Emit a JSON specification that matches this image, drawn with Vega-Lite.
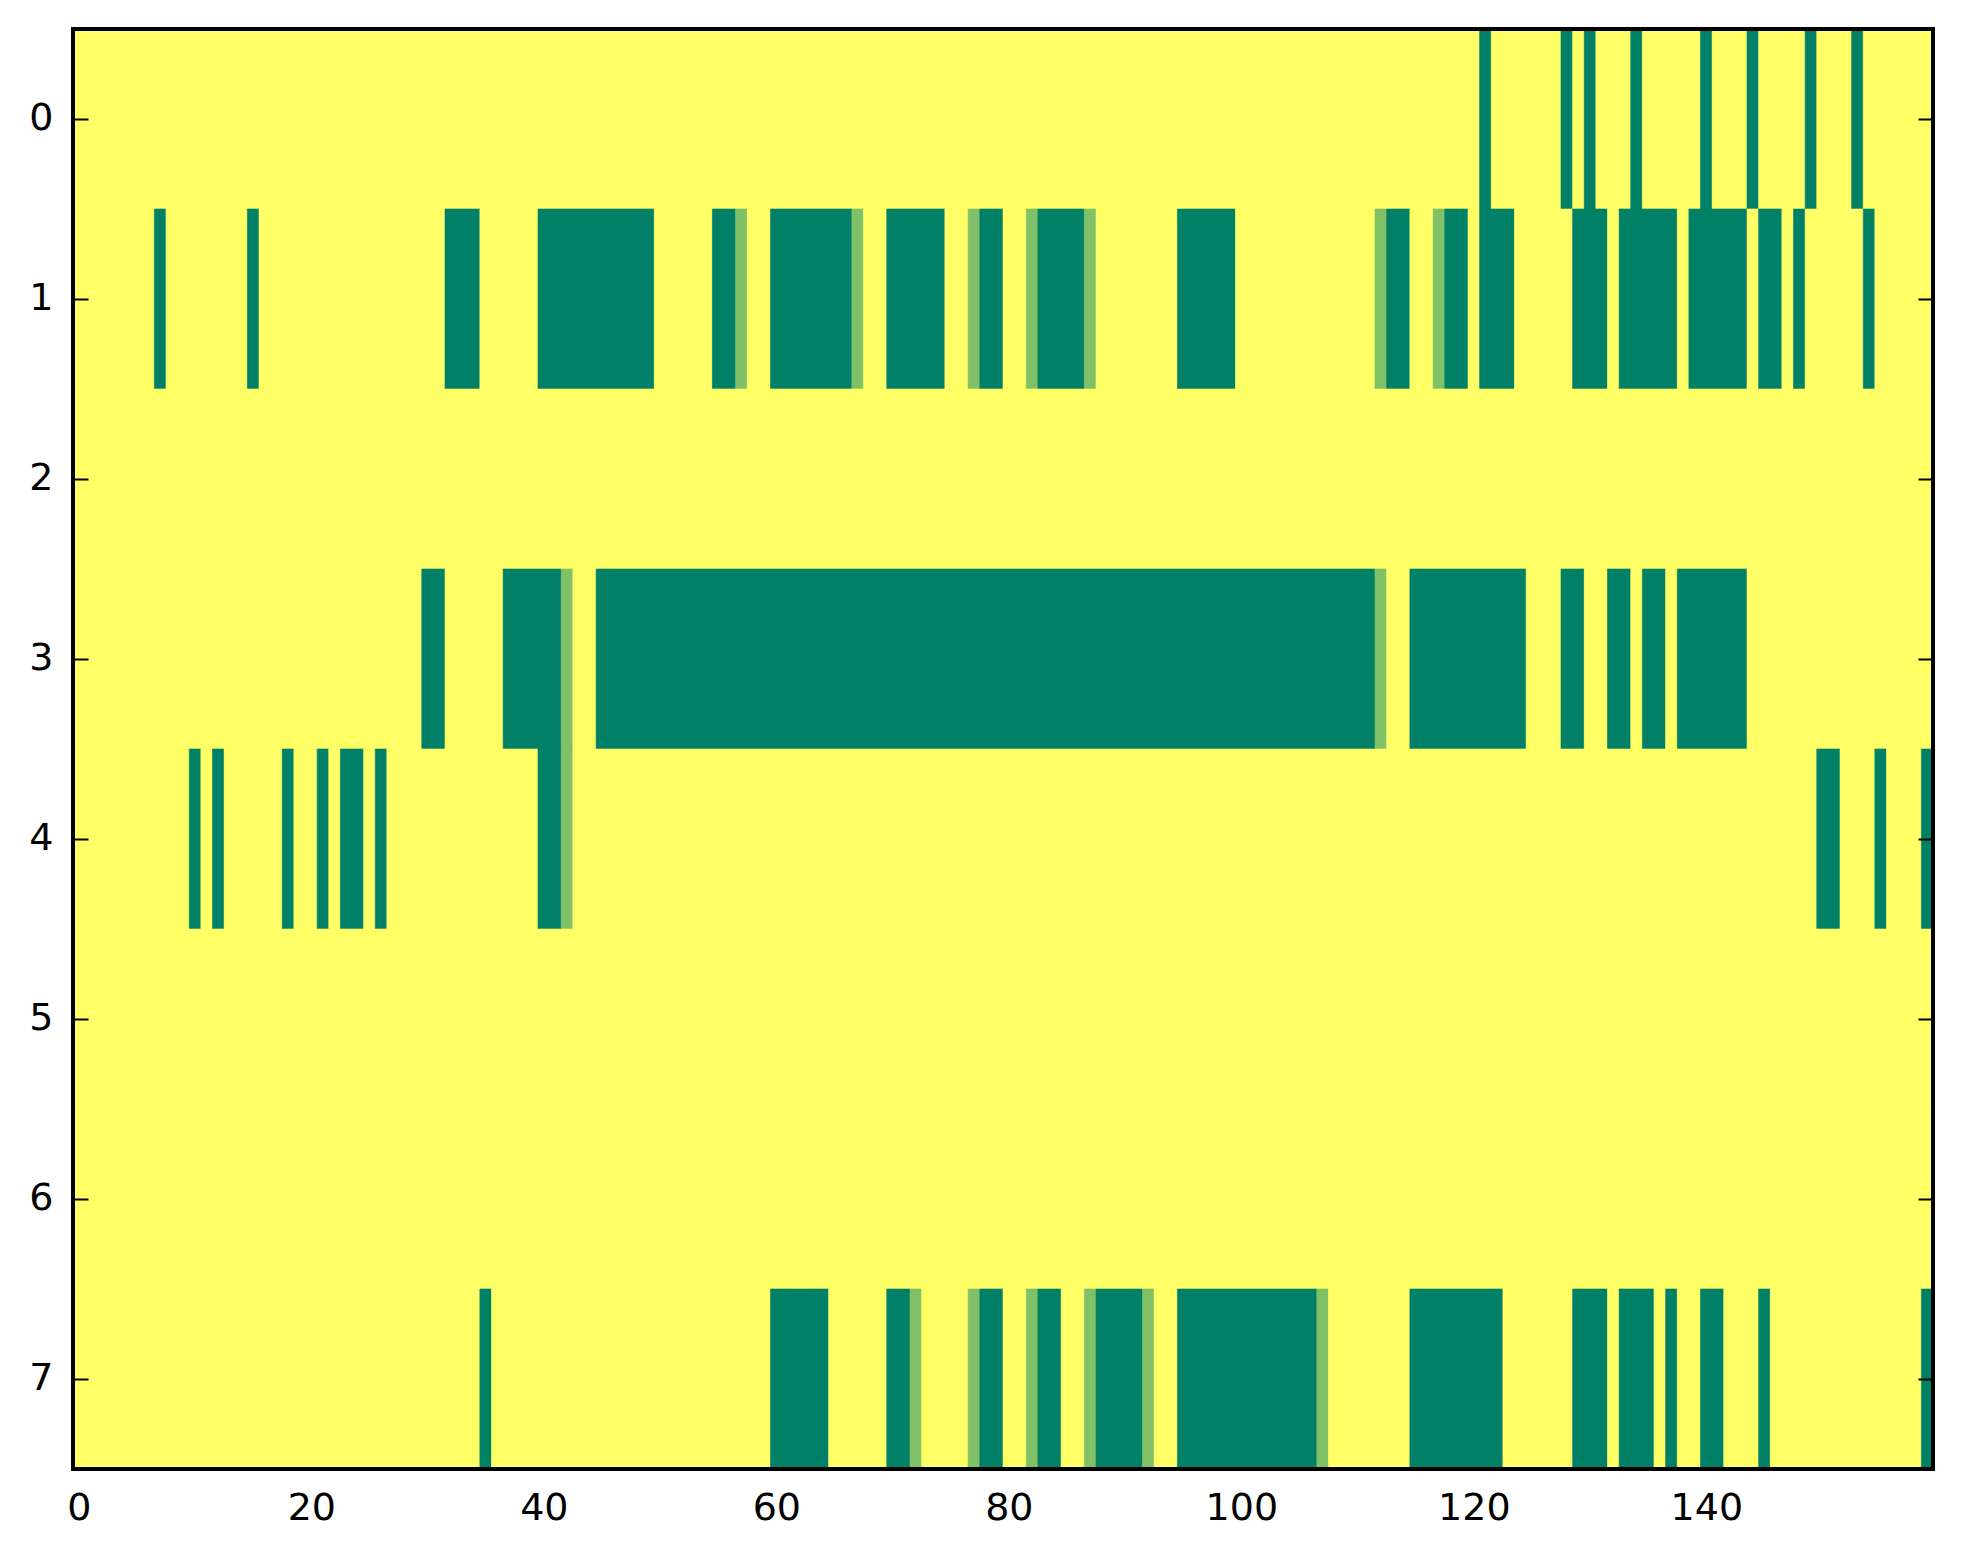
{
  "$schema": "https://vega.github.io/schema/vega-lite/v6.json",
  "width": 1860,
  "height": 1440,
  "autosize": {"type": "none"},
  "padding": {"left": 73, "top": 29, "right": 30, "bottom": 95},
  "background": "white",
  "config": {
    "view": {"stroke": null},
    "font": "DejaVu Sans",
    "axis": {
      "grid": false,
      "domain": false,
      "tickColor": "black",
      "tickWidth": 2,
      "tickSize": -15,
      "labelColor": "black",
      "labelFont": "DejaVu Sans",
      "labelFontSize": 38,
      "title": null
    }
  },
  "data": {
    "values": [
      {"r": 0, "a": -0.5, "b": 120.5, "v": 1},
      {"r": 0, "a": 120.5, "b": 121.5, "v": 0},
      {"r": 0, "a": 121.5, "b": 127.5, "v": 1},
      {"r": 0, "a": 127.5, "b": 128.5, "v": 0},
      {"r": 0, "a": 128.5, "b": 129.5, "v": 1},
      {"r": 0, "a": 129.5, "b": 130.5, "v": 0},
      {"r": 0, "a": 130.5, "b": 133.5, "v": 1},
      {"r": 0, "a": 133.5, "b": 134.5, "v": 0},
      {"r": 0, "a": 134.5, "b": 139.5, "v": 1},
      {"r": 0, "a": 139.5, "b": 140.5, "v": 0},
      {"r": 0, "a": 140.5, "b": 143.5, "v": 1},
      {"r": 0, "a": 143.5, "b": 144.5, "v": 0},
      {"r": 0, "a": 144.5, "b": 148.5, "v": 1},
      {"r": 0, "a": 148.5, "b": 149.5, "v": 0},
      {"r": 0, "a": 149.5, "b": 152.5, "v": 1},
      {"r": 0, "a": 152.5, "b": 153.5, "v": 0},
      {"r": 0, "a": 153.5, "b": 159.5, "v": 1},

      {"r": 1, "a": -0.5, "b": 6.5, "v": 1},
      {"r": 1, "a": 6.5, "b": 7.5, "v": 0},
      {"r": 1, "a": 7.5, "b": 14.5, "v": 1},
      {"r": 1, "a": 14.5, "b": 15.5, "v": 0},
      {"r": 1, "a": 15.5, "b": 31.5, "v": 1},
      {"r": 1, "a": 31.5, "b": 34.5, "v": 0},
      {"r": 1, "a": 34.5, "b": 39.5, "v": 1},
      {"r": 1, "a": 39.5, "b": 49.5, "v": 0},
      {"r": 1, "a": 49.5, "b": 54.5, "v": 1},
      {"r": 1, "a": 54.5, "b": 56.5, "v": 0},
      {"r": 1, "a": 56.5, "b": 57.5, "v": 0.5},
      {"r": 1, "a": 57.5, "b": 59.5, "v": 1},
      {"r": 1, "a": 59.5, "b": 66.5, "v": 0},
      {"r": 1, "a": 66.5, "b": 67.5, "v": 0.5},
      {"r": 1, "a": 67.5, "b": 69.5, "v": 1},
      {"r": 1, "a": 69.5, "b": 74.5, "v": 0},
      {"r": 1, "a": 74.5, "b": 76.5, "v": 1},
      {"r": 1, "a": 76.5, "b": 77.5, "v": 0.5},
      {"r": 1, "a": 77.5, "b": 79.5, "v": 0},
      {"r": 1, "a": 79.5, "b": 81.5, "v": 1},
      {"r": 1, "a": 81.5, "b": 82.5, "v": 0.5},
      {"r": 1, "a": 82.5, "b": 86.5, "v": 0},
      {"r": 1, "a": 86.5, "b": 87.5, "v": 0.5},
      {"r": 1, "a": 87.5, "b": 94.5, "v": 1},
      {"r": 1, "a": 94.5, "b": 99.5, "v": 0},
      {"r": 1, "a": 99.5, "b": 111.5, "v": 1},
      {"r": 1, "a": 111.5, "b": 112.5, "v": 0.5},
      {"r": 1, "a": 112.5, "b": 114.5, "v": 0},
      {"r": 1, "a": 114.5, "b": 116.5, "v": 1},
      {"r": 1, "a": 116.5, "b": 117.5, "v": 0.5},
      {"r": 1, "a": 117.5, "b": 119.5, "v": 0},
      {"r": 1, "a": 119.5, "b": 120.5, "v": 1},
      {"r": 1, "a": 120.5, "b": 123.5, "v": 0},
      {"r": 1, "a": 123.5, "b": 128.5, "v": 1},
      {"r": 1, "a": 128.5, "b": 131.5, "v": 0},
      {"r": 1, "a": 131.5, "b": 132.5, "v": 1},
      {"r": 1, "a": 132.5, "b": 137.5, "v": 0},
      {"r": 1, "a": 137.5, "b": 138.5, "v": 1},
      {"r": 1, "a": 138.5, "b": 143.5, "v": 0},
      {"r": 1, "a": 143.5, "b": 144.5, "v": 1},
      {"r": 1, "a": 144.5, "b": 146.5, "v": 0},
      {"r": 1, "a": 146.5, "b": 147.5, "v": 1},
      {"r": 1, "a": 147.5, "b": 148.5, "v": 0},
      {"r": 1, "a": 148.5, "b": 153.5, "v": 1},
      {"r": 1, "a": 153.5, "b": 154.5, "v": 0},
      {"r": 1, "a": 154.5, "b": 159.5, "v": 1},

      {"r": 2, "a": -0.5, "b": 159.5, "v": 1},

      {"r": 3, "a": -0.5, "b": 29.5, "v": 1},
      {"r": 3, "a": 29.5, "b": 31.5, "v": 0},
      {"r": 3, "a": 31.5, "b": 36.5, "v": 1},
      {"r": 3, "a": 36.5, "b": 41.5, "v": 0},
      {"r": 3, "a": 41.5, "b": 42.5, "v": 0.5},
      {"r": 3, "a": 42.5, "b": 44.5, "v": 1},
      {"r": 3, "a": 44.5, "b": 111.5, "v": 0},
      {"r": 3, "a": 111.5, "b": 112.5, "v": 0.5},
      {"r": 3, "a": 112.5, "b": 114.5, "v": 1},
      {"r": 3, "a": 114.5, "b": 124.5, "v": 0},
      {"r": 3, "a": 124.5, "b": 127.5, "v": 1},
      {"r": 3, "a": 127.5, "b": 129.5, "v": 0},
      {"r": 3, "a": 129.5, "b": 131.5, "v": 1},
      {"r": 3, "a": 131.5, "b": 133.5, "v": 0},
      {"r": 3, "a": 133.5, "b": 134.5, "v": 1},
      {"r": 3, "a": 134.5, "b": 136.5, "v": 0},
      {"r": 3, "a": 136.5, "b": 137.5, "v": 1},
      {"r": 3, "a": 137.5, "b": 143.5, "v": 0},
      {"r": 3, "a": 143.5, "b": 159.5, "v": 1},

      {"r": 4, "a": -0.5, "b": 9.5, "v": 1},
      {"r": 4, "a": 9.5, "b": 10.5, "v": 0},
      {"r": 4, "a": 10.5, "b": 11.5, "v": 1},
      {"r": 4, "a": 11.5, "b": 12.5, "v": 0},
      {"r": 4, "a": 12.5, "b": 17.5, "v": 1},
      {"r": 4, "a": 17.5, "b": 18.5, "v": 0},
      {"r": 4, "a": 18.5, "b": 20.5, "v": 1},
      {"r": 4, "a": 20.5, "b": 21.5, "v": 0},
      {"r": 4, "a": 21.5, "b": 22.5, "v": 1},
      {"r": 4, "a": 22.5, "b": 24.5, "v": 0},
      {"r": 4, "a": 24.5, "b": 25.5, "v": 1},
      {"r": 4, "a": 25.5, "b": 26.5, "v": 0},
      {"r": 4, "a": 26.5, "b": 39.5, "v": 1},
      {"r": 4, "a": 39.5, "b": 41.5, "v": 0},
      {"r": 4, "a": 41.5, "b": 42.5, "v": 0.5},
      {"r": 4, "a": 42.5, "b": 149.5, "v": 1},
      {"r": 4, "a": 149.5, "b": 151.5, "v": 0},
      {"r": 4, "a": 151.5, "b": 154.5, "v": 1},
      {"r": 4, "a": 154.5, "b": 155.5, "v": 0},
      {"r": 4, "a": 155.5, "b": 158.5, "v": 1},
      {"r": 4, "a": 158.5, "b": 159.5, "v": 0},

      {"r": 5, "a": -0.5, "b": 159.5, "v": 1},

      {"r": 6, "a": -0.5, "b": 159.5, "v": 1},

      {"r": 7, "a": -0.5, "b": 34.5, "v": 1},
      {"r": 7, "a": 34.5, "b": 35.5, "v": 0},
      {"r": 7, "a": 35.5, "b": 59.5, "v": 1},
      {"r": 7, "a": 59.5, "b": 64.5, "v": 0},
      {"r": 7, "a": 64.5, "b": 69.5, "v": 1},
      {"r": 7, "a": 69.5, "b": 71.5, "v": 0},
      {"r": 7, "a": 71.5, "b": 72.5, "v": 0.5},
      {"r": 7, "a": 72.5, "b": 76.5, "v": 1},
      {"r": 7, "a": 76.5, "b": 77.5, "v": 0.5},
      {"r": 7, "a": 77.5, "b": 79.5, "v": 0},
      {"r": 7, "a": 79.5, "b": 81.5, "v": 1},
      {"r": 7, "a": 81.5, "b": 82.5, "v": 0.5},
      {"r": 7, "a": 82.5, "b": 84.5, "v": 0},
      {"r": 7, "a": 84.5, "b": 86.5, "v": 1},
      {"r": 7, "a": 86.5, "b": 87.5, "v": 0.5},
      {"r": 7, "a": 87.5, "b": 91.5, "v": 0},
      {"r": 7, "a": 91.5, "b": 92.5, "v": 0.5},
      {"r": 7, "a": 92.5, "b": 94.5, "v": 1},
      {"r": 7, "a": 94.5, "b": 106.5, "v": 0},
      {"r": 7, "a": 106.5, "b": 107.5, "v": 0.5},
      {"r": 7, "a": 107.5, "b": 114.5, "v": 1},
      {"r": 7, "a": 114.5, "b": 122.5, "v": 0},
      {"r": 7, "a": 122.5, "b": 128.5, "v": 1},
      {"r": 7, "a": 128.5, "b": 131.5, "v": 0},
      {"r": 7, "a": 131.5, "b": 132.5, "v": 1},
      {"r": 7, "a": 132.5, "b": 135.5, "v": 0},
      {"r": 7, "a": 135.5, "b": 136.5, "v": 1},
      {"r": 7, "a": 136.5, "b": 137.5, "v": 0},
      {"r": 7, "a": 137.5, "b": 139.5, "v": 1},
      {"r": 7, "a": 139.5, "b": 141.5, "v": 0},
      {"r": 7, "a": 141.5, "b": 144.5, "v": 1},
      {"r": 7, "a": 144.5, "b": 145.5, "v": 0},
      {"r": 7, "a": 145.5, "b": 158.5, "v": 1},
      {"r": 7, "a": 158.5, "b": 159.5, "v": 0}
    ]
  },
  "layer": [
    {
      "mark": {"type": "rect", "strokeWidth": 0.6},
      "encoding": {
        "x": {
          "field": "a",
          "type": "quantitative",
          "scale": {"domain": [-0.5, 159.5], "nice": false, "zero": false},
          "axis": {"orient": "bottom", "values": [0, 20, 40, 60, 80, 100, 120, 140], "labelPadding": 35}
        },
        "x2": {"field": "b"},
        "y": {
          "field": "r",
          "type": "ordinal",
          "scale": {"paddingInner": 0, "paddingOuter": 0},
          "axis": {"orient": "left", "labelAngle": 0, "labelPadding": 35}
        },
        "fill": {
          "field": "v",
          "type": "quantitative",
          "scale": {"domain": [0, 1], "range": ["#008066", "#ffff66"], "interpolate": "rgb"},
          "legend": null
        },
        "stroke": {
          "field": "v",
          "type": "quantitative",
          "scale": {"domain": [0, 1], "range": ["#008066", "#ffff66"], "interpolate": "rgb"},
          "legend": null
        }
      }
    },
    {
      "mark": {"type": "rect", "opacity": 0},
      "encoding": {
        "x": {
          "field": "a",
          "type": "quantitative",
          "scale": {"domain": [-0.5, 159.5], "nice": false, "zero": false},
          "axis": {"orient": "top", "values": [0, 20, 40, 60, 80, 100, 120, 140], "labels": false}
        },
        "x2": {"field": "b"},
        "y": {
          "field": "r",
          "type": "ordinal",
          "scale": {"paddingInner": 0, "paddingOuter": 0},
          "axis": {"orient": "right", "labels": false}
        }
      }
    },
    {
      "data": {"values": [{"left": -0.5, "right": 159.5}]},
      "mark": {"type": "rect", "fill": null, "fillOpacity": 0, "stroke": "black", "strokeWidth": 4},
      "encoding": {
        "x": {"field": "left", "type": "quantitative", "axis": null},
        "x2": {"field": "right"}
      }
    }
  ],
  "resolve": {"axis": {"x": "independent", "y": "independent"}}
}
